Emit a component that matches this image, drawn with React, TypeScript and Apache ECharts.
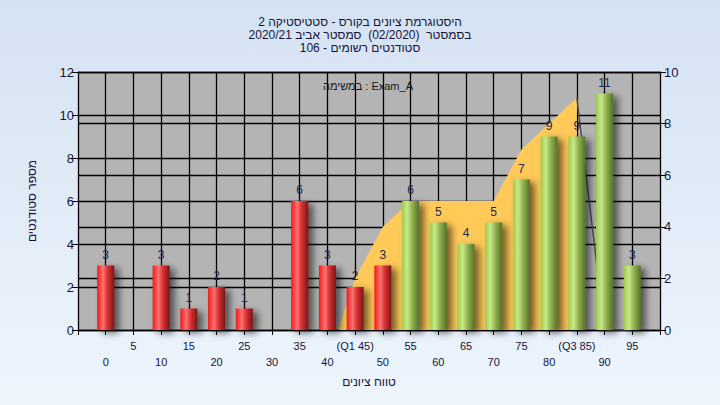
import React, { useEffect, useRef } from "react";
import * as echarts from "echarts";

// ---- data ----
const TITLE_LINES = [
  "היסטוגרמת ציונים בקורס - סטטיסטיקה 2",
  "בסמסטר  (02/2020)  סמסטר אביב 2020/21",
  "סטודנטים רשומים - 106",
];
const TASK_TEXT = "במשימה : Exam_A";
const X_NAME = "טווח ציונים";
const Y_NAME = "מספר סטודנטים";

const CATEGORIES = [0, 5, 10, 15, 20, 25, 30, 35, 40, 45, 50, 55, 60, 65, 70, 75, 80, 85, 90, 95];
const COUNTS = [3, 0, 3, 1, 2, 1, 0, 6, 3, 2, 3, 6, 5, 4, 5, 7, 9, 9, 11, 3];
// yellow band (right axis)
const AREA_VALUES = [null, null, null, null, null, null, null, null, -1.3, 2, 4, 5, 5, 5, 5, 7, 8, 9, null, null];
// grey tail line (right axis)
const TAIL_VALUES = [null, null, null, null, null, null, null, null, null, null, null, null, null, null, null, null, null, 9, 0, 0];
const Q1 = 45;
const Q3 = 85;
const PASS_GRADE = 55;

const LEFT_TICKS = { min: 0, max: 12, interval: 2 };
const RIGHT_TICKS = { min: 0, max: 10, interval: 2 };

const FONT = "'Liberation Sans', Arial, sans-serif";

export default function App() {
  const ref = useRef<HTMLDivElement>(null);

  useEffect(() => {
    if (!ref.current) return;
    const chart = echarts.init(ref.current, null, { renderer: "svg" });

    const pad = (arr: any[]) => [null, ...arr, null];
    const xData = ["", ...CATEGORIES.map(String), ""];

    const redGrad = new echarts.graphic.LinearGradient(0, 0, 1, 0, [
      { offset: 0, color: "#e51c1c" },
      { offset: 0.12, color: "#ff3434" },
      { offset: 0.35, color: "#ff7272" },
      { offset: 0.6, color: "#d83434" },
      { offset: 1, color: "#7c1414" },
    ]);
    const greenGrad = new echarts.graphic.LinearGradient(0, 0, 1, 0, [
      { offset: 0, color: "#9ccb48" },
      { offset: 0.3, color: "#c9e88c" },
      { offset: 0.6, color: "#8fb24c" },
      { offset: 1, color: "#55702a" },
    ]);

    const barData = pad(
      COUNTS.map((v, i) => ({
        value: v,
        itemStyle: { color: CATEGORIES[i] < PASS_GRADE ? redGrad : greenGrad },
      }))
    );

    const labelFor = (value: string, index: number) => {
      if (value === "") return "";
      const n = Number(value);
      let txt = value;
      if (n === Q1) txt = `(Q1 ${value})`;
      if (n === Q3) txt = `(Q3 ${value})`;
      const catIdx = index - 1;
      return catIdx % 2 === 1 ? `${txt}\n ` : ` \n${txt}`;
    };

    chart.setOption({
      animation: false,
      backgroundColor: new echarts.graphic.LinearGradient(0, 0, 0, 1, [
        { offset: 0, color: "#d5e2f2" },
        { offset: 1, color: "#eef5fd" },
      ]),
      title: {
        text: TITLE_LINES.join("\n"),
        left: "center",
        top: 10,
        textStyle: {
          fontFamily: FONT,
          fontSize: 12,
          fontWeight: "normal",
          lineHeight: 13,
          color: "#14143c",
        },
      },
      graphic: [
        {
          type: "text",
          x: 368,
          y: 86,
          z: 100,
          style: {
            text: TASK_TEXT,
            font: `11px ${FONT}`,
            fill: "#141414",
            textAlign: "center",
            textVerticalAlign: "middle",
          },
        },
      ],
      grid: {
        left: 78,
        right: 60,
        top: 72,
        bottom: 75,
        show: true,
        backgroundColor: "#b4b4b4",
        borderWidth: 0,
      },
      xAxis: {
        type: "category",
        data: xData,
        boundaryGap: false,
        name: X_NAME,
        nameLocation: "middle",
        nameGap: 46,
        nameTextStyle: { fontFamily: FONT, fontSize: 12, color: "#14143c" },
        axisLine: { show: true, lineStyle: { color: "#000", width: 1 } },
        axisTick: { show: true, length: 5, interval: 0, lineStyle: { color: "#000" } },
        splitLine: { show: true, interval: 0, lineStyle: { color: "#000", width: 1.3 } },
        axisLabel: {
          interval: 0,
          margin: 8,
          fontFamily: FONT,
          fontSize: 11,
          lineHeight: 16,
          color: "#14143c",
          formatter: labelFor,
        },
      },
      yAxis: [
        {
          type: "value",
          ...LEFT_TICKS,
          position: "left",
          name: Y_NAME,
          nameLocation: "middle",
          nameRotate: 90,
          nameGap: 40,
          nameTextStyle: { fontFamily: FONT, fontSize: 12, color: "#14143c" },
          axisLine: { show: true, lineStyle: { color: "#000", width: 1 } },
          axisTick: { show: true, length: 6, lineStyle: { color: "#000" } },
          splitLine: { show: true, lineStyle: { color: "#000", width: 1.3 } },
          axisLabel: { fontFamily: FONT, fontSize: 13, color: "#14143c", margin: 4 },
        },
        {
          type: "value",
          ...RIGHT_TICKS,
          position: "right",
          axisLine: { show: true, lineStyle: { color: "#000", width: 1 } },
          axisTick: { show: true, length: 6, lineStyle: { color: "#000" } },
          splitLine: { show: true, lineStyle: { color: "#000", width: 1.3 } },
          axisLabel: { fontFamily: FONT, fontSize: 13, color: "#14143c", margin: 4 },
        },
      ],
      series: [
        {
          type: "line",
          yAxisIndex: 1,
          data: pad(AREA_VALUES),
          symbol: "none",
          connectNulls: false,
          lineStyle: { width: 0, color: "#ffca58" },
          areaStyle: { color: "#ffca58", opacity: 1 },
          z: 1,
        },
        {
          type: "line",
          yAxisIndex: 1,
          data: pad(TAIL_VALUES),
          symbol: "none",
          lineStyle: { width: 1.5, color: "#505050" },
          z: 2,
        },
        {
          type: "bar",
          yAxisIndex: 0,
          data: barData,
          barWidth: 17,
          z: 3,
          itemStyle: {
            shadowColor: "rgba(0,0,0,0.55)",
            shadowBlur: 7,
            shadowOffsetX: 5,
            shadowOffsetY: 3,
          },
          label: {
            show: true,
            position: "top",
            distance: 5,
            fontFamily: FONT,
            fontSize: 12,
            color: "#1e2850",
            formatter: (p: any) => (p.value ? String(p.value) : ""),
          },
        },
      ],
    });

    return () => chart.dispose();
  }, []);

  return (
    <div
      ref={ref}
      style={{ position: "absolute", left: 0, top: 0, width: 720, height: 405 }}
    />
  );
}
